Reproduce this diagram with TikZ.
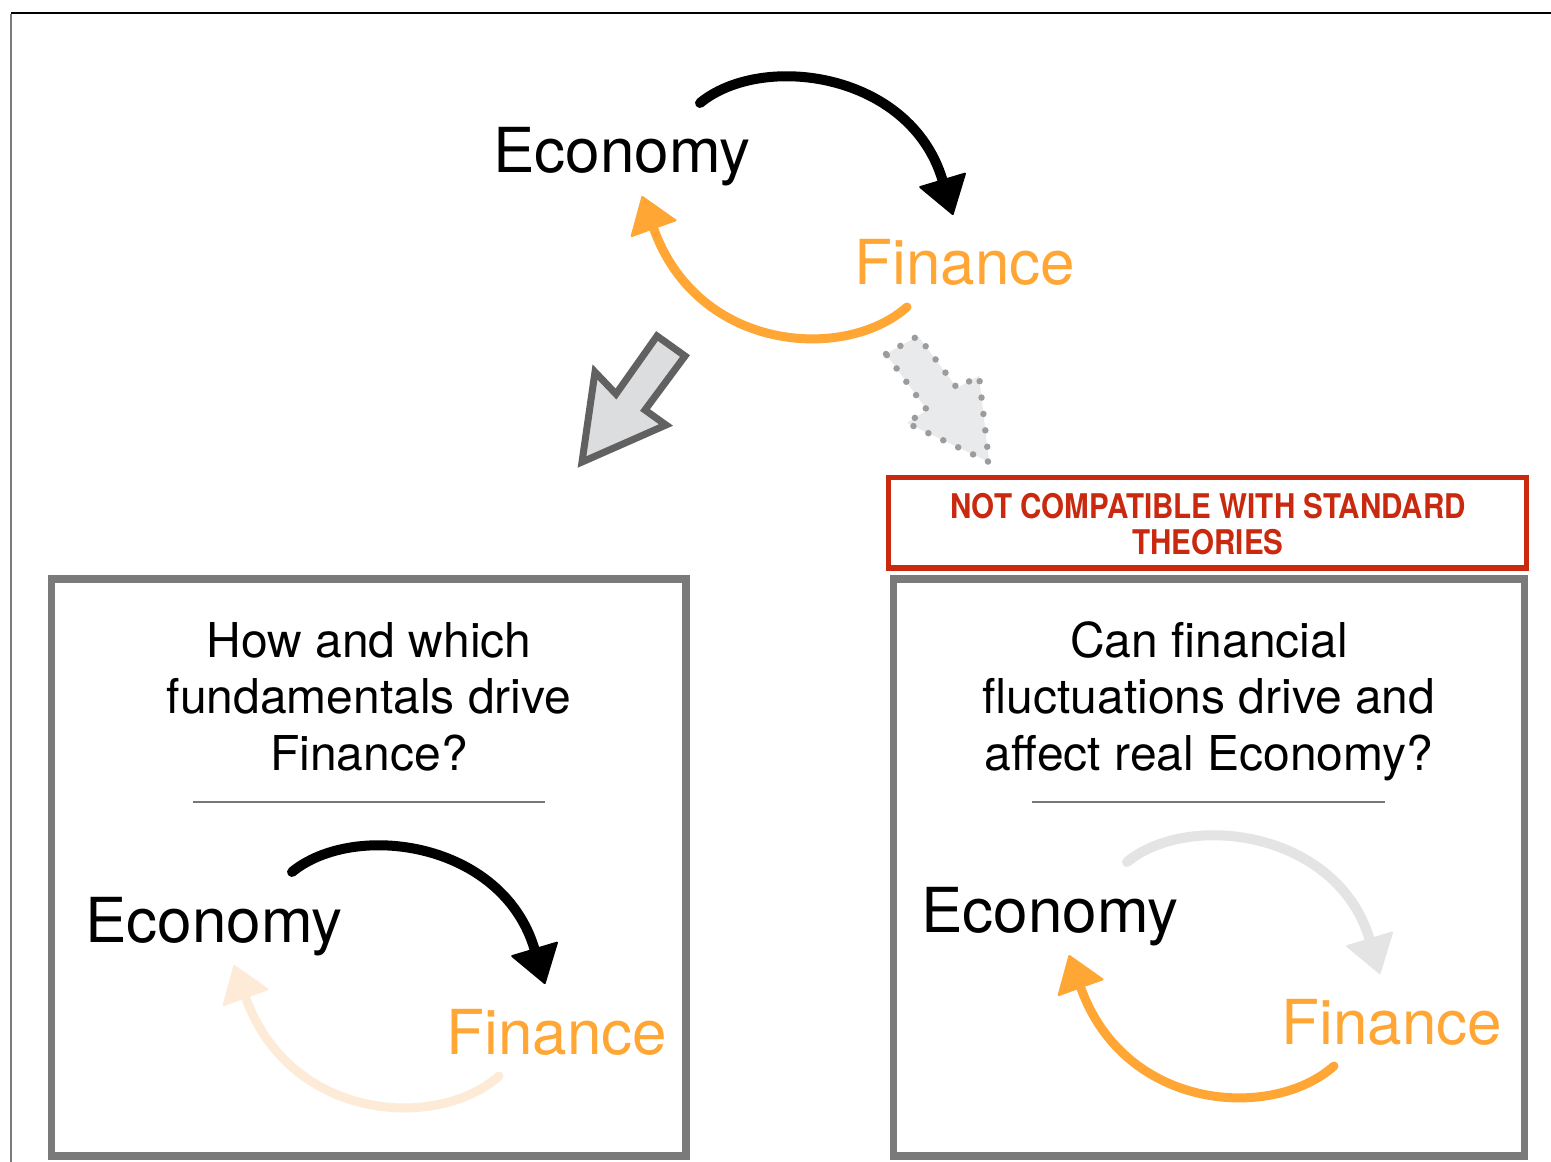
\documentclass[tikz,border=0pt]{standalone}
\usepackage{fontspec}
\setmainfont{TeX Gyre Heros}
\usetikzlibrary{arrows.meta}
\definecolor{orng}{HTML}{FFA634}
\definecolor{fadeorng}{HTML}{FDEBD7}
\definecolor{fadegray}{HTML}{E4E4E4}
\definecolor{boxgray}{HTML}{7A7A7A}
\definecolor{warnred}{HTML}{C8290F}
\definecolor{bigstroke}{HTML}{616161}
\definecolor{bigfill}{HTML}{DCDDDF}
\definecolor{dotfill}{HTML}{E9EAEC}
\definecolor{dotgray}{HTML}{9C9C9C}
\definecolor{sepgray}{HTML}{777777}
\tikzset{
  bigtxt/.style={font=\fontsize{62}{70}\selectfont, anchor=base, inner sep=0pt},
  qtxt/.style={font=\fontsize{48}{57}\selectfont, anchor=base, inner sep=0pt},
  warntxt/.style={font=\fontsize{34}{36}\selectfont\bfseries, text=warnred, anchor=base, inner sep=0pt},
  chalkA/.style={line width=10pt, line cap=round, -{Triangle[length=38pt,width=50pt,line width=2pt,round]}},
  chalkB/.style={line width=9pt, line cap=round, -{Triangle[length=36pt,width=50pt,line width=2pt,round]}},
  framebox/.style={draw=boxgray, line width=7.5pt, line join=miter},
  sepline/.style={draw=sepgray, line width=1.5pt}
}
\newcommand\cyclepair[4]{%
  \begin{scope}[shift={#1}]
    \coordinate (#4-s1) at (700,103);
    \coordinate (#4-t1) at (953,215);
    \coordinate (#4-s2) at (907,307);
    \coordinate (#4-t2) at (642,196);
    \draw[chalkA, draw=#2] (#4-s1) .. controls (762,52) and (910,72) .. (#4-t1);
    \draw[chalkB, draw=#3] (#4-s2) .. controls (845,362) and (698,352) .. (#4-t2);
  \end{scope}}
\begin{document}
\begin{tikzpicture}[x=1pt,y=-1pt]
\useasboundingbox (0,0) rectangle (1551,1162);
\fill[white] (0,0) rectangle (1551,1162);
% page frame lines
\draw[black, line width=1.2pt] (11,13) -- (1551,13);
\draw[boxgray, line width=2pt] (11,13.5) -- (11,1162);

% top cycle
\node[bigtxt] (econTop) at (622,172) {Economy};
\node[bigtxt, text=orng] (finTop) at (965,284) {Finance};
\cyclepair{(0,0)}{black}{orng}{top}

% big gray arrow
\draw[fill=bigfill, draw=bigstroke, line width=7pt, line join=miter]
  (582,462) -- (595,372) -- (616,394) -- (657,336) -- (685,356) -- (645,410) -- (666,425) -- cycle;
% dotted arrow
\fill[dotfill] (886,354) -- (918,336) -- (957,388) -- (979,376) -- (989,462) -- (907,423) -- (927,410) -- cycle;
\draw[draw=dotgray, line width=6.5pt, line cap=round, dash pattern=on 0pt off 16.5pt]
  (886,354) -- (918,336) -- (957,388) -- (979,376) -- (989,462) -- (907,423) -- (927,410) -- cycle;

% warning box
\draw[draw=warnred, line width=5.5pt] (888.5,477.5) rectangle (1526.5,568);
\node[warntxt] (warn1) at (1208,518) {\scalebox{0.87}[1]{NOT COMPATIBLE WITH STANDARD}};
\node[warntxt] (warn2) at (1208,554) {\scalebox{0.87}[1]{THEORIES}};

% left box
\draw[framebox] (51.5,579) rectangle (686,1156);
\node[qtxt] (lq1) at (369,657) {How and which};
\node[qtxt] (lq2) at (369,713) {fundamentals drive};
\node[qtxt] (lq3) at (369,770) {Finance?};
\draw[sepline] (193,802) -- (545,802);
\node[bigtxt] (econL) at (214,942) {Economy};
\node[bigtxt, text=orng] (finL) at (557,1054) {Finance};
\cyclepair{(-408,769)}{black}{fadeorng}{left}

% right box
\draw[framebox] (893.5,579) rectangle (1524.5,1156);
\node[qtxt] (rq1) at (1209,657) {Can financial};
\node[qtxt] (rq2) at (1209,713) {fluctuations drive and};
\node[qtxt] (rq3) at (1209,770) {affect real Economy?};
\draw[sepline] (1032,802) -- (1385,802);
\node[bigtxt] (econR) at (1050,932) {Economy};
\node[bigtxt, text=orng] (finR) at (1392,1044) {Finance};
\cyclepair{(427,759)}{fadegray}{orng}{right}
\end{tikzpicture}
\end{document}
